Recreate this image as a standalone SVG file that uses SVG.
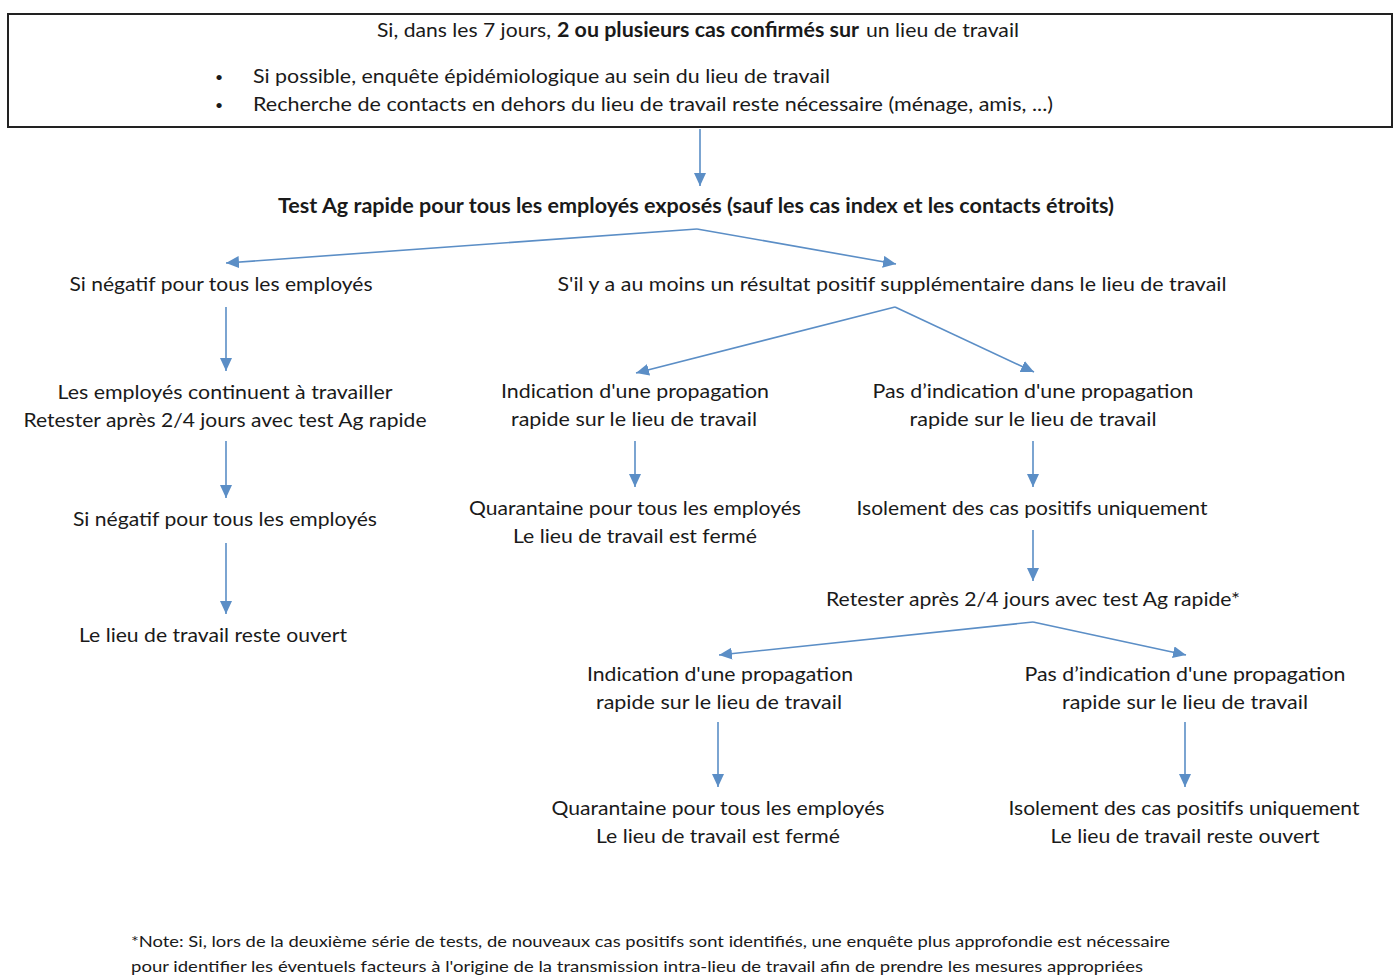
<svg xmlns="http://www.w3.org/2000/svg" width="1395" height="977" viewBox="0 0 1395 977">
<defs>
<style>
text{font-family:Lato,"Open Sans","Liberation Sans",sans-serif;font-size:20px;fill:#1a1a1a}
.c{text-anchor:middle}
.b{font-weight:bold}
.n{font-size:15px}
.bl{font-size:14px}
.ar{stroke:#5b8ec6;stroke-width:1.6;fill:none;marker-end:url(#ah)}
</style>
<marker id="ah" markerUnits="userSpaceOnUse" markerWidth="14" markerHeight="12" refX="13" refY="6" orient="auto">
<path d="M0,0 L13,6 L0,12 z" fill="#5b8ec6"/>
</marker>
</defs>
<rect width="1395" height="977" fill="#fff"/>

<g id="connectors">
<line class="ar" x1="700" y1="129" x2="700" y2="186"/>
<line class="ar" x1="697" y1="229" x2="226" y2="263"/>
<line class="ar" x1="697" y1="229" x2="896" y2="264"/>
<line class="ar" x1="226" y1="307" x2="226" y2="371"/>
<line class="ar" x1="226" y1="441" x2="226" y2="498"/>
<line class="ar" x1="226" y1="543" x2="226" y2="614"/>
<line class="ar" x1="895" y1="307" x2="636" y2="373"/>
<line class="ar" x1="895" y1="307" x2="1034" y2="372"/>
<line class="ar" x1="635" y1="441" x2="635" y2="487"/>
<line class="ar" x1="1033" y1="441" x2="1033" y2="487"/>
<line class="ar" x1="1033" y1="530" x2="1033" y2="581"/>
<line class="ar" x1="1033" y1="622" x2="719" y2="655"/>
<line class="ar" x1="1033" y1="622" x2="1186" y2="655"/>
<line class="ar" x1="718" y1="722" x2="718" y2="787"/>
<line class="ar" x1="1185" y1="722" x2="1185" y2="787"/>
</g>

<g id="top">
<rect x="8" y="14" width="1384" height="113" fill="#fff" stroke="#222" stroke-width="2"/>
<text x="377" y="37" textLength="174" lengthAdjust="spacingAndGlyphs">Si, dans les 7 jours,</text>
<text class="b" x="557" y="37" textLength="302" lengthAdjust="spacingAndGlyphs">2 ou plusieurs cas confirmés sur</text>
<text x="866" y="37" textLength="153" lengthAdjust="spacingAndGlyphs">un lieu de travail</text>
<text class="bl" x="215" y="82">•</text>
<text class="bl" x="215" y="110">•</text>
<text x="253" y="83" textLength="577" lengthAdjust="spacingAndGlyphs">Si possible,  enquête épidémiologique au sein du lieu de travail</text>
<text x="253" y="111" textLength="800" lengthAdjust="spacingAndGlyphs">Recherche de contacts en dehors du lieu de travail reste nécessaire (ménage, amis, ...)</text>
</g>

<g id="test">
<text class="c b" x="696" y="213" textLength="836" lengthAdjust="spacingAndGlyphs">Test Ag rapide pour tous les employés exposés (sauf les cas index et les contacts étroits)</text>
</g>

<g id="neg1">
<text class="c" x="221" y="291" textLength="303" lengthAdjust="spacingAndGlyphs">Si négatif pour tous les employés</text>
</g>
<g id="pos1">
<text class="c" x="892" y="291" textLength="669" lengthAdjust="spacingAndGlyphs">S'il y a au moins un résultat positif supplémentaire dans le lieu de travail</text>
</g>

<g id="continue">
<text class="c" x="225" y="399" textLength="335" lengthAdjust="spacingAndGlyphs">Les employés  continuent  à travailler</text>
<text class="c" x="225" y="427" textLength="403" lengthAdjust="spacingAndGlyphs">Retester après 2/4 jours avec test Ag rapide</text>
</g>
<g id="neg2">
<text class="c" x="225" y="526" textLength="304" lengthAdjust="spacingAndGlyphs">Si négatif pour tous les employés</text>
</g>
<g id="open1">
<text class="c" x="213" y="642" textLength="268" lengthAdjust="spacingAndGlyphs">Le lieu de travail reste ouvert</text>
</g>

<g id="ind1">
<text class="c" x="635" y="398" textLength="268" lengthAdjust="spacingAndGlyphs">Indication d'une propagation</text>
<text class="c" x="634" y="426" textLength="246" lengthAdjust="spacingAndGlyphs">rapide sur le lieu de travail</text>
</g>
<g id="noind1">
<text class="c" x="1033" y="398" textLength="321" lengthAdjust="spacingAndGlyphs">Pas d’indication d'une propagation</text>
<text class="c" x="1033" y="426" textLength="247" lengthAdjust="spacingAndGlyphs">rapide sur le lieu de travail</text>
</g>
<g id="quar1">
<text class="c" x="635" y="515" textLength="332" lengthAdjust="spacingAndGlyphs">Quarantaine pour tous les employés</text>
<text class="c" x="635" y="543" textLength="244" lengthAdjust="spacingAndGlyphs">Le lieu de travail est fermé</text>
</g>
<g id="iso1">
<text class="c" x="1032" y="515" textLength="351" lengthAdjust="spacingAndGlyphs">Isolement des cas positifs  uniquement</text>
</g>
<g id="retest2">
<text class="c" x="1033" y="606" textLength="414" lengthAdjust="spacingAndGlyphs">Retester après 2/4 jours avec test Ag rapide*</text>
</g>

<g id="ind2">
<text class="c" x="720" y="681" textLength="266" lengthAdjust="spacingAndGlyphs">Indication d'une propagation</text>
<text class="c" x="719" y="709" textLength="246" lengthAdjust="spacingAndGlyphs">rapide sur le lieu de travail</text>
</g>
<g id="noind2">
<text class="c" x="1185" y="681" textLength="321" lengthAdjust="spacingAndGlyphs">Pas d’indication d'une propagation</text>
<text class="c" x="1185" y="709" textLength="246" lengthAdjust="spacingAndGlyphs">rapide sur le lieu de travail</text>
</g>
<g id="quar2">
<text class="c" x="718" y="815" textLength="333" lengthAdjust="spacingAndGlyphs">Quarantaine pour tous les employés</text>
<text class="c" x="718" y="843" textLength="244" lengthAdjust="spacingAndGlyphs">Le lieu de travail est fermé</text>
</g>
<g id="iso2">
<text class="c" x="1184" y="815" textLength="351" lengthAdjust="spacingAndGlyphs">Isolement des cas positifs  uniquement</text>
<text class="c" x="1185" y="843" textLength="269" lengthAdjust="spacingAndGlyphs">Le lieu de travail reste ouvert</text>
</g>

<g id="note">
<text class="n" x="131" y="947" textLength="1039" lengthAdjust="spacingAndGlyphs">*Note: Si, lors de la deuxième série de tests, de nouveaux cas positifs sont identifiés, une enquête plus approfondie est nécessaire</text>
<text class="n" x="131" y="972" textLength="1012" lengthAdjust="spacingAndGlyphs">pour identifier les éventuels facteurs à l'origine de la transmission intra-lieu de travail afin de prendre les mesures appropriées</text>
</g>
</svg>
